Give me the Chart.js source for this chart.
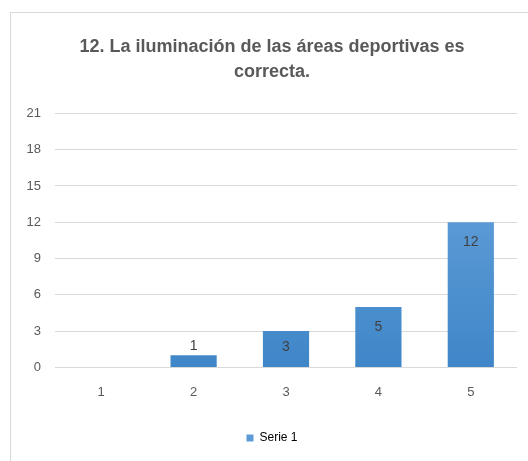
<!DOCTYPE html>
<html>
<head>
<meta charset="utf-8">
<script src="https://cdn.jsdelivr.net/npm/chart.js@4"></script>
<style>
body { margin: 0; background: #fff; }
#wrap { position: relative; width: 528px; height: 461px; overflow: hidden; }
#frame { position: absolute; left: 10px; top: 12px; width: 540px; height: 470px; border: 1px solid #d9d9d9; }
#myChart { position: absolute; left: 0; top: 0; }
</style>
</head>
<body>
<div id="wrap">
<div id="frame"></div>
<canvas id="myChart" width="528" height="461"></canvas>
</div>
<script>
var categories = ['1', '2', '3', '4', '5'];
var serie1 = [0, 1, 3, 5, 12];
var yTicks = [0, 3, 6, 9, 12, 15, 18, 21];
var chartTitle = ['12. La iluminación de las áreas deportivas es', 'correcta.'];

var fontFam = "'Liberation Sans', sans-serif";

// labels inside the top of the bar, or above when the bar is too short
var barLabels = {
    id: 'barLabels',
    afterDatasetsDraw: function (chart) {
        var ctx = chart.ctx;
        var meta = chart.getDatasetMeta(0);
        ctx.save();
        ctx.font = '14px ' + fontFam;
        ctx.fillStyle = '#404040';
        ctx.textAlign = 'center';
        ctx.textBaseline = 'middle';
        meta.data.forEach(function (bar, i) {
            var v = serie1[i];
            if (!v) return;
            var h = bar.base - bar.y;
            var y;
            if (h >= 40) y = bar.y + 20;
            else if (h >= 25) y = bar.y + h / 2 - 2;
            else y = bar.y - 9;
            ctx.fillText(String(v), bar.x, y);
        });
        ctx.restore();
    }
};

var ctx = document.getElementById('myChart');
var myChart = new Chart(ctx, {
    type: 'bar',
    data: {
        labels: categories,
        datasets: [{
            label: 'Serie 1',
            data: serie1,
            backgroundColor: function (c) {
                var area = c.chart.chartArea;
                if (!area) return '#5b9bd5';
                var g = c.chart.ctx.createLinearGradient(0, area.top, 0, area.bottom);
                g.addColorStop(0, '#6ea8de');
                g.addColorStop(1, '#3f86c8');
                return g;
            },
            borderWidth: 0,
            barPercentage: 0.5,
            categoryPercentage: 1
        }]
    },
    options: {
        responsive: false,
        animation: false,
        layout: { padding: { left: 27, right: 11, top: 34, bottom: 7 } },
        plugins: {
            title: {
                display: true,
                text: chartTitle,
                color: '#595959',
                font: { family: fontFam, size: 18, weight: 'bold', lineHeight: 1.4 },
                padding: { top: 0, bottom: 29 }
            },
            legend: {
                position: 'bottom',
                labels: {
                    color: '#595959',
                    font: { family: fontFam, size: 12 },
                    boxWidth: 7,
                    boxHeight: 7,
                    padding: 23,
                    generateLabels: function (chart) {
                        return [{ text: 'Serie 1', fillStyle: '#5b9bd5', strokeStyle: '#5b9bd5', lineWidth: 0, datasetIndex: 0 }];
                    }
                }
            },
            tooltip: { enabled: false }
        },
        scales: {
            x: {
                grid: { display: false },
                border: { display: false },
                ticks: { color: '#595959', font: { family: fontFam, size: 13 }, padding: 9 }
            },
            y: {
                min: 0,
                max: 21,
                afterBuildTicks: function (axis) {
                    axis.ticks = yTicks.map(function (v) { return { value: v }; });
                },
                afterFit: function (axis) {
                    axis.width = 28;
                },
                grid: { color: '#d9d9d9', drawTicks: false },
                border: { display: false },
                ticks: { color: '#595959', font: { family: fontFam, size: 13 }, padding: 14 }
            }
        }
    },
    plugins: [barLabels]
});
</script>
</body>
</html>
